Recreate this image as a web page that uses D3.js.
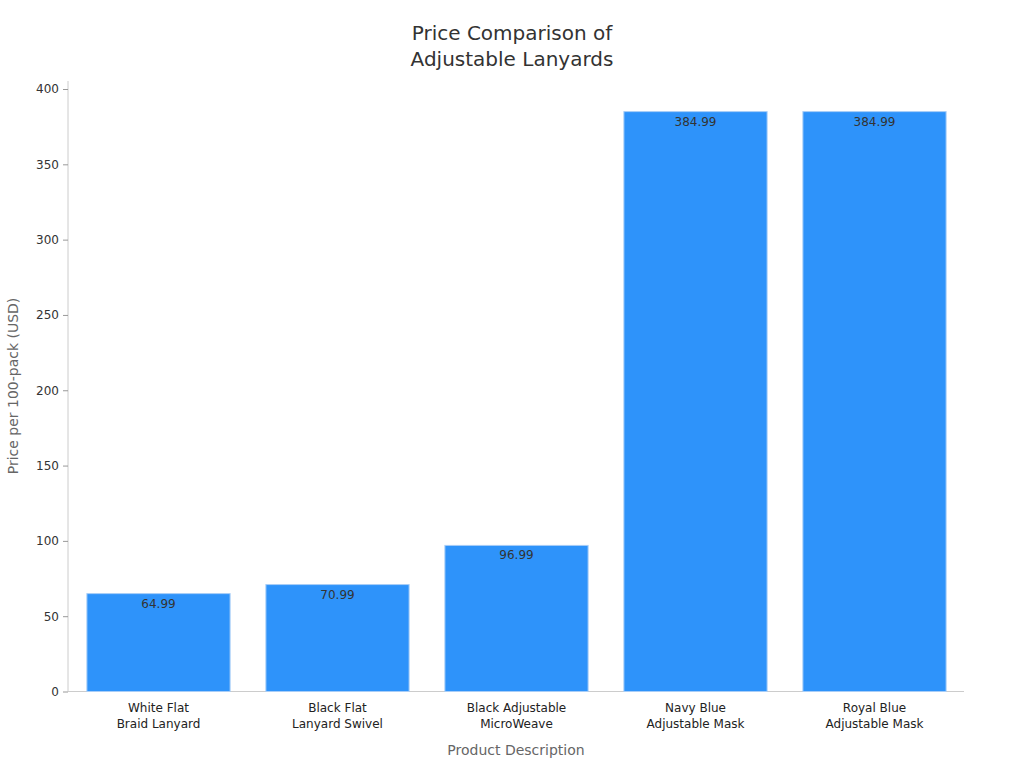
<!DOCTYPE html>
<html><head><meta charset="utf-8">
<script src="https://cdn.jsdelivr.net/npm/d3@7"></script>
<style>body{margin:0;background:#fff;font-family:"DejaVu Sans",sans-serif}</style>
</head><body><svg id="c" width="1024" height="768"></svg>
<script>
const categories=[["White Flat","Braid Lanyard"],["Black Flat","Lanyard Swivel"],["Black Adjustable","MicroWeave"],["Navy Blue","Adjustable Mask"],["Royal Blue","Adjustable Mask"]];
const values=[64.99,70.99,96.99,384.99,384.99];
const yTicks=[0,50,100,150,200,250,300,350,400];
const svg=d3.select("#c");
const m={l:68,r:964,t:89,b:691.5};
const x=d3.scaleBand().domain(d3.range(values.length)).range([m.l+1,m.r]).paddingInner(0.2).paddingOuter(0.1);
const y=d3.scaleLinear().domain([0,400]).range([m.b,m.t]);
svg.append("text").attr("x",512).attr("y",40).attr("text-anchor","middle").attr("font-size",20).attr("fill","#333").text("Price Comparison of");
svg.append("text").attr("x",512).attr("y",66).attr("text-anchor","middle").attr("font-size",20).attr("fill","#333").text("Adjustable Lanyards");
const ya=svg.append("g").attr("transform",`translate(${m.l},0)`).call(d3.axisLeft(y).tickValues(yTicks).tickSize(5).tickPadding(4));
ya.select(".domain").attr("stroke","#ccc").attr("d",`M0,${m.t-8}V${m.b}`);
ya.selectAll(".tick line").attr("stroke","#999");
ya.selectAll("text").attr("font-size",12).attr("fill","#333").attr("font-family","DejaVu Sans");
svg.append("line").attr("x1",m.l).attr("x2",m.r).attr("y1",m.b).attr("y2",m.b).attr("stroke","#ccc");
svg.selectAll("rect.b").data(values).enter().append("rect").attr("x",(d,i)=>x(i)).attr("width",x.bandwidth()).attr("y",d=>y(d)).attr("height",d=>m.b-y(d)).attr("fill","#2e93fa").attr("stroke","#a8cdf7").attr("stroke-width",1);
svg.selectAll("text.v").data(values).enter().append("text").attr("x",(d,i)=>x(i)+x.bandwidth()/2).attr("y",d=>y(d)+14).attr("text-anchor","middle").attr("font-size",12).attr("fill","#333").text(d=>d.toFixed(2));
categories.forEach((c,i)=>{c.forEach((l,j)=>svg.append("text").attr("x",x(i)+x.bandwidth()/2).attr("y",712+j*16).attr("text-anchor","middle").attr("font-size",12).attr("fill","#222").text(l));});
svg.append("text").attr("x",516).attr("y",755).attr("text-anchor","middle").attr("font-size",14).attr("fill","#666").text("Product Description");
svg.append("text").attr("transform","translate(18,386) rotate(-90)").attr("text-anchor","middle").attr("font-size",14).attr("fill","#666").text("Price per 100-pack (USD)");
</script></body></html>
